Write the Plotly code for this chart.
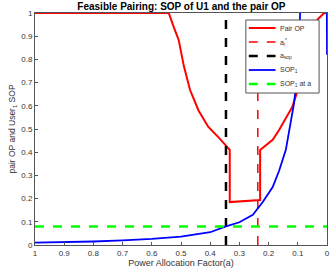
import plotly.graph_objects as go

# Pair OP curve
a_pair = [1.0, 0.542, 0.525, 0.508, 0.49, 0.469, 0.44, 0.407, 0.373, 0.346, 0.333, 0.333,
          0.229, 0.229, 0.186, 0.164, 0.141, 0.119, 0.102, 0.07, 0.034, 0.01, 0.0]
op_pair = [1.0, 1.0, 0.94, 0.884, 0.77, 0.668, 0.58, 0.51, 0.466, 0.43, 0.41, 0.185,
           0.194, 0.41, 0.453, 0.496, 0.547, 0.595, 0.66, 0.8, 0.97, 1.0, 1.0]

# SOP of user 1
a_sop1 = [1.0, 0.9, 0.8, 0.7, 0.6, 0.5, 0.45, 0.4, 0.346, 0.3, 0.254, 0.22, 0.186, 0.164,
          0.141, 0.124, 0.113, 0.105, 0.098, 0.092, 0.085, 0.001, 0.0]
sop1 = [0.01, 0.012, 0.015, 0.02, 0.026, 0.036, 0.044, 0.055, 0.08, 0.098, 0.13, 0.185,
        0.25, 0.32, 0.41, 0.525, 0.61, 0.7, 0.82, 1.0, 1.15, 1.15, 0.82]

a_star = 0.237
a_sop = 0.346
sop_at_a = 0.08

x_ticks = [1, 0.9, 0.8, 0.7, 0.6, 0.5, 0.4, 0.3, 0.2, 0.1, 0]
y_ticks = [0, 0.1, 0.2, 0.3, 0.4, 0.5, 0.6, 0.7, 0.8, 0.9, 1]

legend_names = ["Pair OP", "a<sub>i</sub><sup>*</sup>", "a<sub>sop</sub>",
                "SOP<sub>1</sub>", "SOP<sub>1</sub> at a"]

FONT = "Liberation Sans, Arial, sans-serif"

styles = [
    dict(color="#ff0000", width=2),
    dict(color="#ff0000", width=1.5, dash="dash"),
    dict(color="#000000", width=2.5, dash="dash"),
    dict(color="#0000ff", width=1.8),
    dict(color="#00ff00", width=2.5, dash="dash"),
]

fig = go.Figure()
fig.add_trace(go.Scatter(x=a_pair, y=op_pair, mode="lines", name=legend_names[0],
                         line=styles[0]))
fig.add_trace(go.Scatter(x=[a_star, a_star], y=[0, 1], mode="lines",
                         name=legend_names[1], line=styles[1]))
fig.add_trace(go.Scatter(x=[a_sop, a_sop], y=[0, 1], mode="lines",
                         name=legend_names[2], line=styles[2]))
fig.add_trace(go.Scatter(x=a_sop1, y=sop1, mode="lines", name=legend_names[3],
                         line=styles[3]))
fig.add_trace(go.Scatter(x=[1, 0], y=[sop_at_a, sop_at_a], mode="lines",
                         name=legend_names[4], line=styles[4]))

# Manual MATLAB-like legend box (paper coordinates)
L, R, T, B = 35, 330, 13, 245  # plot area in pixels


def px(xp):
    return (xp - L) / (R - L)


def py(yp):
    return (B - yp) / (B - T)


fig.add_shape(type="rect", xref="paper", yref="paper",
              x0=px(248), x1=px(322), y0=py(93), y1=py(20),
              line=dict(color="#555555", width=1), fillcolor="white", layer="above")
item_y = [28, 42, 56, 70, 84]
for name, st, yy in zip(legend_names, styles, item_y):
    fig.add_shape(type="line", xref="paper", yref="paper",
                  x0=px(251), x1=px(278), y0=py(yy), y1=py(yy),
                  line=st, layer="above")
    fig.add_annotation(xref="paper", yref="paper", x=px(280), y=py(yy),
                       xanchor="left", yanchor="middle", text=name, showarrow=False,
                       font=dict(family=FONT, size=7, color="#333333"))

axis_common = dict(showline=True, mirror=True, linecolor="#555555", linewidth=1,
                   ticks="inside", ticklen=3, tickcolor="#555555",
                   showgrid=False, zeroline=False,
                   tickfont=dict(family=FONT, size=8, color="#333333"))

fig.update_layout(
    width=336, height=276,
    margin=dict(l=35, r=6, t=13, b=31),
    paper_bgcolor="white", plot_bgcolor="white",
    showlegend=False,
    title=dict(text="<b>Feasible Pairing: SOP of U1 and the pair OP</b>",
               x=0.54, xanchor="center", y=0.99, yanchor="top",
               font=dict(family=FONT, size=10, color="#000000")),
    xaxis=dict(range=[1, 0], tickvals=x_ticks, ticktext=[str(v) for v in x_ticks],
               title=dict(text="Power Allocation Factor(a)", standoff=3,
                          font=dict(family=FONT, size=9, color="#333333")),
               **axis_common),
    yaxis=dict(range=[0, 1], tickvals=y_ticks, ticktext=[str(v) for v in y_ticks],
               title=dict(text="pair OP and User<sub>1</sub> SOP", standoff=4,
                          font=dict(family=FONT, size=8.5, color="#333333")),
               **axis_common),
)

fig.write_html("out.html")
